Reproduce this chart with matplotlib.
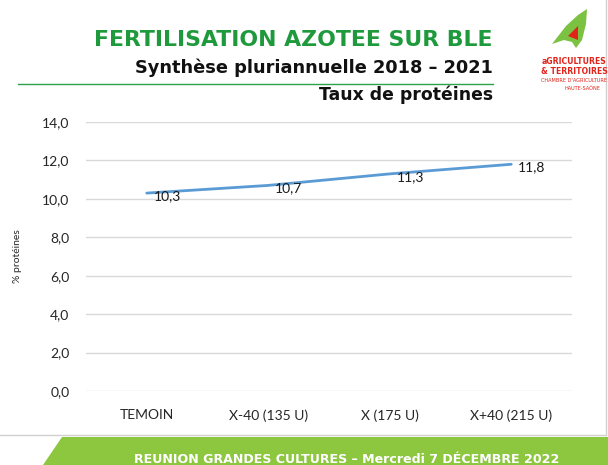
import matplotlib
matplotlib.use("Agg")
import matplotlib.pyplot as plt
from matplotlib.patches import Polygon
from matplotlib.lines import Line2D

# Data
categories = ["TEMOIN", "X-40 (135 U)", "X (175 U)", "X+40 (215 U)"]
proteins = [10.3, 10.7, 11.3, 11.8]
y_ticks = [0, 2, 4, 6, 8, 10, 12, 14]

W, H = 608, 465
fig = plt.figure(figsize=(W / 100, H / 100), dpi=100)
fig.patch.set_facecolor("white")

BODY = "Lato"


def px(x, y):
    """pixel coords (top-left origin) -> figure fraction"""
    return x / W, 1 - y / H


# ---- Chart ----
left, top, right, bottom = 86, 122, 572, 391
ax = fig.add_axes([left / W, 1 - bottom / H, (right - left) / W, (bottom - top) / H])
x = list(range(len(categories)))
ax.plot(x, proteins, color="#5b9bd5", linewidth=2, solid_capstyle="round", zorder=3)
for xi, v in zip(x, proteins):
    ax.annotate(f"{v:.1f}".replace(".", ","), (xi, v), xytext=(5, -2),
                textcoords="offset points", ha="left", va="center",
                fontsize=10, family=BODY, color="#1a1a1a", zorder=4)

ax.set_xlim(-0.5, len(categories) - 0.5)
ax.set_ylim(0, 14)
ax.set_yticks(y_ticks)
ax.set_yticklabels([f"{t:.1f}".replace(".", ",") for t in y_ticks],
                   fontsize=10, family=BODY, color="#262626")
ax.set_xticks(x)
ax.set_xticklabels(categories, fontsize=10, family=BODY, color="#262626")
ax.tick_params(axis="both", length=0)
ax.tick_params(axis="x", pad=13)
ax.tick_params(axis="y", pad=12)
ax.grid(axis="y", color="#d9d9d9", linewidth=1)
ax.set_axisbelow(True)
for s in ax.spines.values():
    s.set_visible(False)
ax.set_ylabel("% protéines", fontsize=7.5, family=BODY, color="#262626")
ax.yaxis.set_label_coords((22 - left) / (right - left), (bottom - 256) / (bottom - top))

# ---- Titles ----
fx, fy = px(493, 40)
fig.text(fx, fy, "FERTILISATION AZOTEE SUR BLE", ha="right", va="center",
         fontsize=15.8, fontweight="bold", color="#1e9a3c", family="DejaVu Sans")
fx, fy = px(493, 68)
fig.text(fx, fy, "Synthèse pluriannuelle 2018 – 2021", ha="right", va="center",
         fontsize=12.8, fontweight="bold", color="#111111", family="DejaVu Sans")
fig.add_artist(Line2D([18 / W, 493 / W], [1 - 84 / H, 1 - 84 / H],
                      color="#2ca24a", linewidth=1))
fx, fy = px(493, 95)
fig.text(fx, fy, "Taux de protéines", ha="right", va="center",
         fontsize=12.4, fontweight="bold", color="#111111", family="DejaVu Sans")

# ---- Logo (approximation) ----
fig.add_artist(Polygon([px(552, 44), px(566, 26), px(578, 15), px(587, 9),
                        px(586, 24), px(582, 40), px(576, 48), px(572, 42),
                        px(564, 40)],
                       closed=True, transform=fig.transFigure,
                       facecolor="#7cc242", edgecolor="none"))
fig.add_artist(Polygon([px(568, 36), px(578, 26), px(578, 40)],
                       closed=True, transform=fig.transFigure,
                       facecolor="#e2231a", edgecolor="none"))
fx, fy = px(574, 62)
fig.text(fx, fy, "aGRICULTURES", ha="center", va="center", fontsize=5.6,
         fontweight="bold", color="#e2231a", family="DejaVu Sans Condensed")
fx, fy = px(574, 72)
fig.text(fx, fy, "& TERRITOIRES", ha="center", va="center", fontsize=5.6,
         fontweight="bold", color="#e2231a", family="DejaVu Sans Condensed")
fx, fy = px(574, 81)
fig.text(fx, fy, "CHAMBRE D'AGRICULTURE", ha="center", va="center", fontsize=3.6,
         color="#e2231a", family="DejaVu Sans Condensed")
fx, fy = px(582, 88)
fig.text(fx, fy, "HAUTE-SAÔNE", ha="center", va="center", fontsize=3.6,
         color="#e2231a", family="DejaVu Sans Condensed")

# ---- Frame & footer ----
fig.add_artist(Line2D([0, 606 / W], [1 - 435 / H, 1 - 435 / H],
                      color="#d0d0d0", linewidth=1))
fig.add_artist(Line2D([606 / W, 606 / W], [1 - 435 / H, 1],
                      color="#d0d0d0", linewidth=1))
fig.add_artist(Polygon([px(62, 437), px(W, 437), px(W, H), px(43, H)],
                       closed=True, transform=fig.transFigure,
                       facecolor="#8dc63f", edgecolor="none"))
fx, fy = px(347, 459)
fig.text(fx, fy, "REUNION GRANDES CULTURES – Mercredi 7 DÉCEMBRE 2022",
         ha="center", va="center", fontsize=9.1, fontweight="bold",
         color="white", family="DejaVu Sans")

fig.savefig("out.png", dpi=100, facecolor="white")
